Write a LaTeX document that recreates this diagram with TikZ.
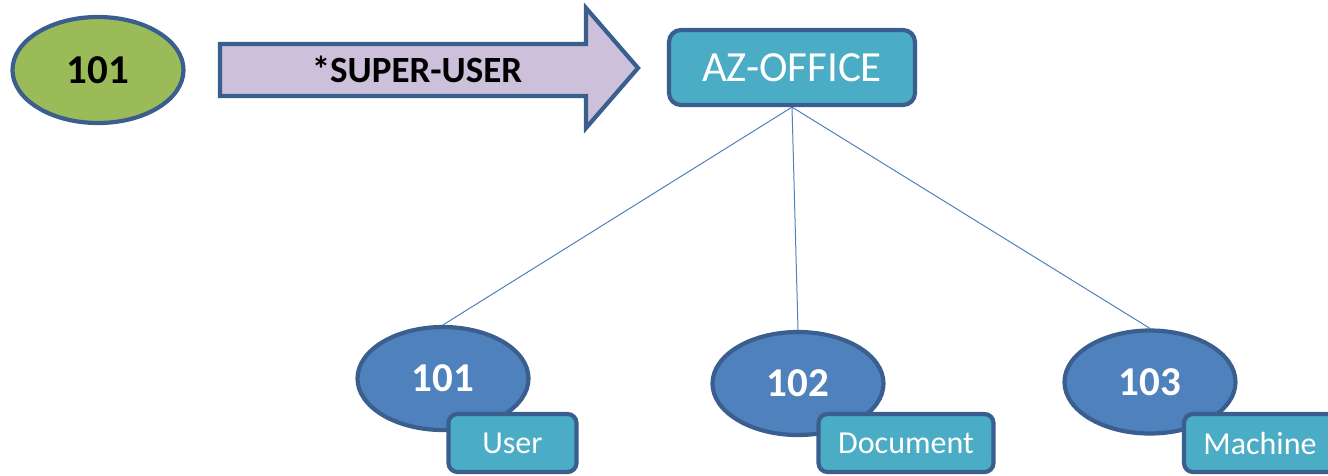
\documentclass[tikz,border=0pt]{standalone}
\usepackage{fontspec}
\setmainfont{Carlito}
\usetikzlibrary{shapes.geometric,backgrounds}
\definecolor{leaf}{HTML}{9BBB59}
\definecolor{steel}{HTML}{4F81BD}
\definecolor{rim}{HTML}{3A5F8F}
\definecolor{aqua}{HTML}{4BACC6}
\definecolor{lilac}{HTML}{CCC0DA}
\tikzset{
  oval/.style={ellipse, draw=rim, line width=4.2pt, inner sep=0pt,
               minimum width=171pt, minimum height=103pt,
               font=\fontsize{41}{45}\selectfont\bfseries},
  unitoval/.style={oval, fill=steel, text=white},
  tagbox/.style={rectangle, rounded corners=9pt, draw=rim, line width=4.2pt,
                 fill=aqua, text=white, minimum height=58pt, inner sep=0pt,
                 font=\fontsize{32}{36}\selectfont},
  link/.style={draw=steel, line width=1pt},
}
\begin{document}
\begin{tikzpicture}[x=1pt,y=-1pt]
\useasboundingbox (0,0) rectangle (1328,475);
\clip (0,0) rectangle (1328,475);

% user who holds the privilege
\node[oval, fill=leaf, text=black, minimum height=106pt] (su) at (98,70) {101};

% privilege arrow
\draw[draw=rim, line width=4.2pt, fill=lilac, line join=miter]
  (220,44) -- (586,44) -- (586,8) -- (638,68) -- (586,128) -- (586,96)
  -- (220,96) -- cycle;
\node[font=\fontsize{37}{41}\selectfont\bfseries] (priv) at (417,69) {*SUPER-USER};

% office node
\node[rectangle, rounded corners=12pt, draw=rim, line width=4.2pt, fill=aqua,
      text=white, minimum width=246pt, minimum height=75pt,
      font=\fontsize{43}{47}\selectfont] (az) at (792,67.5) {AZ-OFFICE};

% members
\node[unitoval] (m1) at (443,378.5) {101};
\node[unitoval] (m2) at (798,383.5) {102};
\node[unitoval] (m3) at (1150,382) {103};

% hierarchy links, beneath the member ovals
\begin{scope}[on background layer]
\path[link] (az.south) -- (m1.north);
\path[link] (az.south) -- (m2.north);
\path[link] (az.south) -- (m3.north);
\end{scope}

% type tags
\node[tagbox, minimum width=128pt] (t1) at (512.5,443) {User};
\node[tagbox, minimum width=175pt] (t2) at (906,443) {Document};
\node[tagbox, minimum width=152pt] (t3) at (1260,443) {Machine};
\end{tikzpicture}
\end{document}
